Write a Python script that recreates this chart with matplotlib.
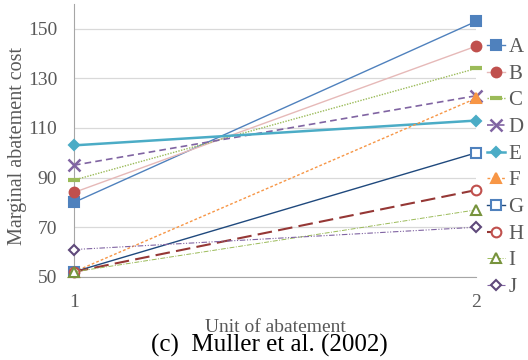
import matplotlib
matplotlib.use("Agg")
import matplotlib.pyplot as plt

plt.rcParams['font.family'] = ['Liberation Serif', 'DejaVu Serif']

units = [1, 2]
names = ['A', 'B', 'C', 'D', 'E', 'F', 'G', 'H', 'I', 'J']
cost_unit1 = [80, 84, 89, 95, 103, 52, 52, 52, 52, 61]
cost_unit2 = [153, 143, 134, 123, 113, 122, 100, 85, 77, 70]

# line colour, marker colour, marker, filled, linestyle, linewidth
styles = {
    'A': ('#4F81BD', '#4F81BD', 's', True, '-', 1.0),
    'B': ('#E6B9B8', '#C0504D', 'o', True, '-', 1.0),
    'C': ('#9BBB59', '#9BBB59', '_', True, (0, (1, 1)), 1.0),
    'D': ('#8064A2', '#8064A2', 'x', True, (0, (4, 2.5)), 1.2),
    'E': ('#4BACC6', '#4BACC6', 'D', True, '-', 1.8),
    'F': ('#F79646', '#F79646', '^', True, (0, (2, 1.5)), 1.0),
    'G': ('#1F497D', '#4F81BD', 's', False, '-', 1.0),
    'H': ('#953735', '#C0504D', 'o', False, (0, (7, 3)), 1.5),
    'I': ('#9BBB59', '#77933C', '^', False, (0, (5, 1.5, 1, 1.5)), 0.7),
    'J': ('#8064A2', '#5F497A', 'D', False, (0, (5, 1.5, 1, 1.5, 1, 1.5)), 0.8),
}

fig = plt.figure(figsize=(5.28, 3.6), dpi=100)
ax = fig.add_axes([0.140, 0.231, 0.762, 0.758])

for i, name in enumerate(names):
    lc, mc, mk, filled, ls, lw = styles[name]
    ms = 7 if mk != 'D' else 5.5
    mew = 1.5
    if mk == 'x':
        ms, mew = 8, 1.8
    if mk == '_':
        ms, mew = 8, 3
    ax.plot(units, [cost_unit1[i], cost_unit2[i]], color=lc, linestyle=ls, linewidth=lw,
            marker=mk, markersize=ms, markeredgewidth=mew,
            markerfacecolor=mc if filled else 'white', markeredgecolor=mc,
            label=name, clip_on=False, zorder=3)

ax.set_xlim(1, 2)
ax.set_ylim(50, 160)
ax.set_xticks([1, 2])
ax.set_yticks([50, 70, 90, 110, 130, 150])
ax.grid(axis='y', color='#D9D9D9', linewidth=0.9)
ax.set_axisbelow(True)
for s in ['top', 'right']:
    ax.spines[s].set_visible(False)
for s in ['left', 'bottom']:
    ax.spines[s].set_color('#A6A6A6')
ax.tick_params(length=0, labelsize=14, colors='#595959')
ax.tick_params(axis='y', pad=12)
ax.tick_params(axis='x', pad=12)
ax.set_ylabel('Marginal abatement cost', fontsize=14.5, color='#595959')
ax.yaxis.set_label_coords(-0.117, 0.48)
ax.set_xlabel('Unit of abatement', fontsize=14, color='#595959', labelpad=6)

leg = ax.legend(loc='upper left', bbox_to_anchor=(1.0, 0.915), frameon=False,
                fontsize=15, handlelength=0.9, handletextpad=0.15,
                labelspacing=0.34, borderaxespad=0.0, borderpad=0.5)
for t in leg.get_texts():
    t.set_color('#595959')

fig.text(0.51, 0.04, '(c)  Muller et al. (2002)', ha='center', va='center', fontsize=18)

fig.savefig('out.png', dpi=100)
